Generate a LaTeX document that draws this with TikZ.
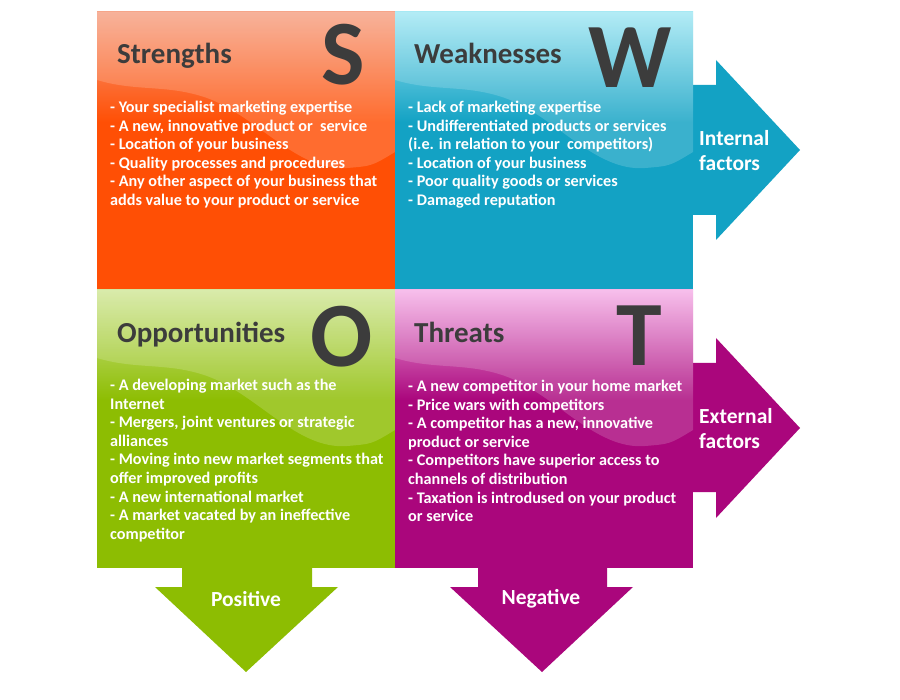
\documentclass[tikz,border=0pt]{standalone}
\usepackage{fontspec}
\setmainfont{Carlito}
\definecolor{Sbase}{HTML}{FF4F05}
\definecolor{Stop}{HTML}{F6A386}
\definecolor{Wbase}{HTML}{13A2C4}
\definecolor{Wtop}{HTML}{A4E8F4}
\definecolor{Obase}{HTML}{8DBD02}
\definecolor{Otop}{HTML}{D2E79A}
\definecolor{Tbase}{HTML}{AA067C}
\definecolor{Ttop}{HTML}{F6B2E8}
\definecolor{Ttext}{HTML}{3C3C3C}
\tikzset{
  x=1pt, y=-1pt,
  bodytext/.style={font=\fontsize{16.2}{18.6}\selectfont\bfseries, text=white, align=left, anchor=north west, inner sep=0pt},
  titletext/.style={font=\fontsize{29}{32}\selectfont\bfseries, text=Ttext, anchor=base west, inner sep=0pt},
  bigletter/.style={font=\fontsize{92}{92}\selectfont\bfseries, text=Ttext, anchor=base, inner sep=0pt, text depth=0pt},
  arrowtext/.style={font=\fontsize{21.5}{25}\selectfont\bfseries, text=white, align=left, inner sep=0pt},
}
\newcommand\swotquad[4]{% x0, y0, topcolor, basecolor
  \begin{scope}[shift={(#1,#2)}]
    \fill[#4] (0,0) rectangle (298,278);
    \shade[top color=#3, bottom color=#4] (0,0) rectangle (298,110);
    \fill[white, opacity=0.17] (0,0) -- (0,68) .. controls (40,80) and (70,72) .. (110,86)
      .. controls (160,104) and (200,160) .. (250,156) .. controls (275,154) .. (298,140) -- (298,0) -- cycle;
  \end{scope}}
\begin{document}
\begin{tikzpicture}
\fill[white] (0,0) rectangle (900,700);
\useasboundingbox (0,0) rectangle (900,700);
% arrows
\fill[Wbase] (690,85) -- (716,85) -- (716,60) -- (800,150) -- (716,240) -- (716,215) -- (690,215) -- cycle;
\fill[Tbase] (690,363) -- (716,363) -- (716,338) -- (800,428) -- (716,518) -- (716,492) -- (690,492) -- cycle;
\fill[Obase] (182,565) -- (182,587) -- (155,587) -- (246,672) -- (338,587) -- (312,587) -- (312,565) -- cycle;
\fill[Tbase] (478,565) -- (478,587) -- (450,587) -- (542,672) -- (633,587) -- (607,587) -- (607,565) -- cycle;
% quadrants
\swotquad{97}{12}{Stop}{Sbase}
\swotquad{395}{12}{Wtop}{Wbase}
\swotquad{97}{290}{Otop}{Obase}
\swotquad{395}{290}{Ttop}{Tbase}
% titles
\node[titletext] (st) at (117,64) {Strengths};
\node[titletext] (wt) at (414,64) {Weaknesses};
\node[titletext] (ot) at (117,343) {Opportunities};
\node[titletext] (tt) at (414,343) {Threats};
\node[bigletter] (sl) at (343,85) {S};
\node[bigletter] (wl) at (630,88) {W};
\node[bigletter] (ol) at (342,367) {O};
\node[bigletter] (tl) at (639,366) {T};
% bodies
\node[bodytext] (sb) at (110,101) {- Your specialist marketing expertise\\- A new, innovative product or \ service\\- Location of your business\\- Quality processes and procedures\\- Any other aspect of your business that\\adds value to your product or service};
\node[bodytext] (wb) at (408,101) {- Lack of marketing expertise\\- Undifferentiated products or services\\(i.e. in relation to your \ competitors)\\- Location of your business\\- Poor quality goods or services\\- Damaged reputation};
\node[bodytext] (ob) at (110,379) {- A developing market such as the\\Internet\\- Mergers, joint ventures or strategic\\alliances\\- Moving into new market segments that\\offer improved profits\\- A new international market\\- A market vacated by an ineffective\\competitor};
\node[bodytext] (tb) at (408,380) {- A new competitor in your home market\\- Price wars with competitors\\- A competitor has a new, innovative\\product or service\\- Competitors have superior access to\\channels of distribution\\- Taxation is introdused on your product\\or service};
% arrow labels
\node[arrowtext, anchor=west] (int) at (699,151) {Internal\\factors};
\node[arrowtext, anchor=west] (ext) at (699,429) {External\\factors};
\node[arrowtext, anchor=center] (pos) at (246,599) {Positive};
\node[arrowtext, anchor=center] (neg) at (541,599) {Negative};
\end{tikzpicture}
\end{document}
